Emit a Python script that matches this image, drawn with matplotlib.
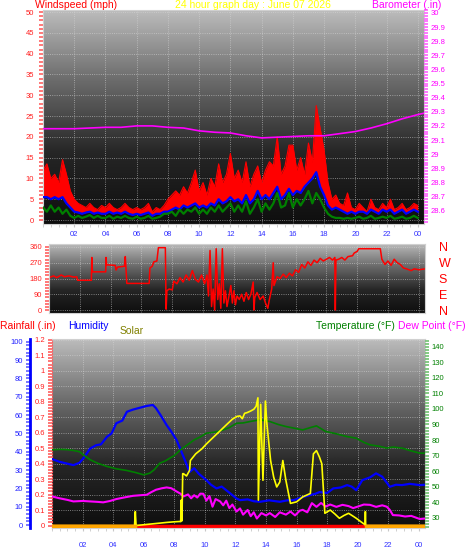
import numpy as np
import matplotlib.pyplot as plt
from matplotlib.colors import LinearSegmentedColormap
from matplotlib.ticker import MultipleLocator, FormatStrFormatter

plt.rcParams['font.family'] = ['Liberation Sans', 'DejaVu Sans']

# wind, 15 minute samples 00:00 .. 24:00 (mph)
hours = np.arange(97) / 4.0
gust = [12, 13.5, 10, 11, 9, 14.5, 11, 7,
        5, 4, 3.5, 3, 4, 3, 2.5, 3.5,
        3, 4, 3, 2.5, 3, 4, 3, 2.5,
        3, 2.5, 3, 4, 2, 3, 2.5, 3.5,
        5, 6, 7, 6, 8, 6.5, 9, 12,
        7, 9, 6, 10, 8, 13.5, 9, 11,
        16, 10, 12, 9, 14, 8, 11, 13,
        9, 12, 14, 13, 20, 11, 13, 18,
        18, 12, 15, 11, 18.5, 14, 27.5, 22,
        16.8, 9, 5, 6, 4, 3.5, 6.5, 3,
        2.5, 4, 3, 2, 5, 3, 2.5, 4,
        3, 5, 2.5, 3, 4, 2.5, 3, 4, 3.5]
avg_wind = [5.5, 5.5, 5, 5.5, 5, 5.5, 4, 3,
            2, 1.8, 1.5, 1.8, 2, 1.5, 1.8, 1.5,
            1.5, 2, 1.5, 1.8, 1.5, 2, 1.5, 1.2,
            1.5, 1.2, 1.5, 1.8, 1, 1.5, 1.5, 2,
            2, 2.5, 3, 2.5, 3.5, 3, 3.5, 4,
            3, 3.5, 3, 4, 3.5, 5, 4, 4.5,
            5.5, 4.5, 5, 4, 6, 4, 5, 7,
            5, 6, 5, 6.5, 8, 5, 6, 7.5,
            6, 7, 6.5, 8, 9, 10, 11.5, 8,
            6, 3.5, 2.5, 3, 2.5, 2, 1.5, 2,
            1.5, 2, 2, 1.5, 2.5, 2, 1.5, 2.5,
            2, 2.5, 1.5, 2, 2.5, 1.5, 2, 2.5, 2]
wind = [3, 2, 3.5, 2, 3, 1.5, 2.5, 1,
        0.5, 1, 0.5, 0.8, 1.2, 0.5, 1, 0.5,
        0.5, 1, 0.3, 0.8, 0.5, 1, 0.5, 0.3,
        0.8, 0.3, 0.5, 1, 0.3, 0.5, 0.8, 1.5,
        1.5, 2, 1, 2.5, 1.5, 2.5, 2, 3,
        1.5, 2.5, 1.5, 3, 2, 3.5, 2, 3,
        4, 2, 3.5, 2, 4.5, 1.5, 3, 5,
        2, 4, 2.5, 4, 6.5, 3, 3.5, 6.5,
        3, 5, 3.5, 5, 7, 4, 6.5, 5,
        3, 1.5, 0.8, 0.5, 0.5, 0.3, 0.5, 0.3,
        0.5, 0.8, 0.3, 0.5, 1, 0.3, 0.5, 0.8,
        0.5, 1, 0.3, 0.5, 0.8, 0.3, 0.5, 1, 0.5]

baro_t = [0, 1, 2, 3, 4, 5, 6, 7, 8, 9, 10, 11, 12, 13, 14, 15, 16, 17, 18, 19, 20, 21, 22, 23, 24, 24.4]
baro = [29.18, 29.18, 29.18, 29.185, 29.19, 29.19, 29.20, 29.20, 29.19, 29.185, 29.165, 29.155, 29.15,
        29.13, 29.115, 29.12, 29.125, 29.13, 29.13, 29.145, 29.16, 29.185, 29.215, 29.25, 29.28, 29.29]
baro_ticks = [28.6, 28.7, 28.8, 28.9, 29.0, 29.1, 29.2, 29.3, 29.4, 29.5, 29.6, 29.7, 29.8, 29.9, 30.0]
baro_labels = ['28.6', '28.7', '28.8', '28.9', '29', '29.1', '29.2', '29.3', '29.4', '29.5', '29.6',
               '29.7', '29.8', '29.9', '30']

# wind direction (degrees)
dir_t = [0.0, 0.3, 0.5, 0.8, 1.0, 1.3, 1.6, 1.8, 1.85, 2.75, 2.78, 2.82, 3.68, 3.70, 3.74, 4.3, 4.35, 4.45,
         4.9, 4.95, 5.05, 6.5, 6.55, 6.7, 6.8, 7.0, 7.1, 7.55, 7.6, 7.65, 7.8, 8.0, 8.1, 8.3, 8.5, 8.7,
         8.9, 9.1, 9.3, 9.5, 9.7, 9.9, 10.1, 10.25, 10.35, 10.45, 10.55, 10.65, 10.75, 10.85, 10.95, 11.05,
         11.15, 11.25, 11.35, 11.45, 11.55, 11.7, 11.8, 11.9, 12.0, 12.1, 12.2, 12.35, 12.5, 12.65, 12.8,
         12.95, 13.1, 13.25, 13.3, 13.35, 13.5, 13.7, 13.9, 14.05, 14.2, 14.3, 14.45, 14.55, 14.6, 14.8,
         15.0, 15.2, 15.4, 15.6, 15.8, 16.0, 16.2, 16.4, 16.6, 16.8, 17.0, 17.2, 17.4, 17.6, 17.8, 18.0,
         18.2, 18.4, 18.55, 18.58, 18.62, 18.8, 19.0, 19.2, 19.4, 19.7, 19.8, 20.0, 20.1, 21.5, 21.6, 21.8,
         22.0, 22.2, 22.4, 22.6, 22.8, 23.0, 23.2, 23.5, 23.7, 24.0, 24.4]
dir_deg = [185, 195, 185, 200, 190, 195, 188, 190, 170, 170, 300, 218, 218, 300, 258, 255, 228, 245,
           250, 305, 152, 152, 240, 250, 275, 280, 356, 356, 5, 110, 120, 115, 165, 150, 185, 160,
           200, 170, 225, 175, 160, 200, 150, 200, 80, 340, 20, 120, 0, 350, 60, 150,
           10, 350, 40, 110, 20, 90, 140, 40, 110, 30, 80, 60, 90, 50, 100,
           60, 90, 160, 0, 70, 100, 60, 80, 40, 10, 60, 120, 270, 140, 190,
           180, 205, 185, 210, 195, 230, 215, 260, 240, 275, 255, 285, 270, 295, 280, 290,
           300, 285, 300, 0, 285, 290, 300, 285, 305, 310, 325, 335, 350, 350, 290, 260,
           280, 255, 290, 270, 260, 240, 235, 225, 235, 230, 235]
compass_ticks = [360, 270, 180, 90, 0]
compass_labels = ['N', 'W', 'S', 'E', 'N']

rain_t = [0, 24.4]
rain = [0, 0]

hum_t = [0.0, 0.5, 1.0, 1.4, 1.8, 2.05, 2.5, 2.9, 3.2, 3.6, 3.9, 4.2, 4.6, 4.9, 5.3, 5.75, 6.2, 6.6, 6.8, 7.1,
         7.5, 7.8, 8.15, 8.6, 9.0, 9.3, 9.6, 10.1, 10.4, 10.76, 11.1, 11.4, 11.7, 12.07, 12.3, 12.8, 13.2,
         13.6, 14.2, 14.9, 15.4, 15.8, 16.3, 16.9, 17.2, 17.5, 18.0, 18.4, 18.9, 19.3, 19.6, 19.9, 20.3,
         20.8, 21.2, 21.6, 22.1, 22.5, 22.9, 23.4, 24.05, 24.4]
hum = [36, 34.5, 33.5, 32.7, 34, 36.4, 41.8, 43.6, 44, 48.2, 50, 55.5, 57, 61.8, 63, 64, 65, 65.5, 63.8, 60,
       54.5, 51, 46.4, 37.3, 29, 31, 28, 24.5, 22, 20, 21, 19, 17, 14.5, 13.6, 14, 13,
       12.7, 13.5, 12.7, 13.5, 13.6, 15, 16.4, 17, 18, 17.5, 20, 20.5, 21.8, 21, 19, 24.5,
       26, 28.2, 26.4, 20.9, 22, 21.8, 22.5, 21.8, 22]

temp_t = [0.0, 0.5, 1.0, 1.4, 1.8, 2.05, 2.5, 3.0, 3.6, 4.2, 4.9, 5.5, 6.0, 6.4, 6.7, 7.05, 7.4, 7.7, 8.0, 8.4,
          8.8, 9.3, 9.7, 10.1, 10.6, 11.2, 11.6, 12.07, 12.5, 13.0, 13.6, 14.25, 14.8, 15.3, 15.9, 16.4,
          16.9, 17.3, 17.9, 18.6, 19.3, 19.9, 20.4, 20.8, 21.4, 21.9, 22.3, 22.9, 23.5, 24.05, 24.4]
temp = [73.7, 74, 73.8, 73.3, 72.5, 70.5, 67.3, 65, 63, 61.5, 60.4, 59, 57.6, 58.7, 61, 65.1, 66.5, 68.3, 70, 73.7,
        76.5, 80.1, 82, 84.4, 85, 86.5, 88, 90.8, 91, 92, 93, 91.9, 90, 88.7, 87.5, 86.5,
        88, 89.1, 85.5, 84, 82.2, 81.2, 78.5, 76.9, 76, 74.8, 75.5, 74.8, 73, 71.6, 71.5]

dew_t = [0.0, 0.5, 1.0, 1.4, 2.0, 2.5, 3.0, 3.35, 3.8, 4.2, 4.7, 5.3, 5.8, 6.2, 6.5, 6.8, 7.2, 7.5, 7.8, 8.15,
         8.4, 8.6, 8.9, 9.1, 9.3, 9.5, 9.7, 9.9, 10.1, 10.3, 10.5, 10.7, 11.0, 11.2, 11.4, 11.6, 11.8, 12.07,
         12.3, 12.5, 12.8, 13.0, 13.2, 13.4, 13.7, 14.0, 14.25, 14.6, 14.9, 15.3, 15.6, 15.9, 16.2, 16.4,
         16.7, 17.0, 17.3, 17.6, 17.9, 18.2, 18.6, 19.0, 19.4, 19.7, 20.1, 20.4, 20.8, 21.2, 21.6, 21.9,
         22.1, 22.3, 22.7, 23.1, 23.5, 24.05, 24.4]
dew = [43.7, 42.5, 41.5, 40.5, 40.8, 40.5, 40.2, 39.9, 40.8, 42, 43, 44.1, 44.5, 44.8, 46.5, 48, 49, 49.5, 49, 46.9,
       45.5, 43.7, 45, 42.5, 44.5, 43, 45.5, 45.4, 41, 44, 37.1, 42, 40.5, 38, 41, 36.2, 38.5, 34,
       36, 32, 35, 31, 33.5, 29.5, 33, 31.5, 33, 30.5, 33.5, 32, 34, 31.5, 34.5, 35.1,
       33.5, 39.4, 37, 39.5, 37.2, 38.5, 37, 38.3, 37.5, 36.2, 37.5, 38.5, 38.3, 37, 38, 37.1,
       35, 31.7, 31.5, 30.8, 31.2, 29.2, 29.5]

sol_t = [0.0, 5.4, 5.45, 5.5, 6.0, 6.5, 7.0, 7.5, 8.0, 8.35, 8.42, 8.45, 8.5, 8.55, 8.6, 8.8, 9.0, 9.05, 9.4, 9.8,
         10.1, 10.5, 11.0, 11.4, 11.8, 12.1, 12.3, 12.45, 12.6, 12.75, 13.0, 13.2, 13.35, 13.47, 13.5, 13.65,
         13.8, 13.96, 14.05, 14.3, 14.5, 14.7, 14.9, 15.1, 15.3, 15.6, 16.0, 16.4, 16.9, 17.1, 17.3, 17.5,
         17.65, 17.85, 18.2, 18.5, 18.8, 19.1, 19.4, 19.7, 19.9, 20.2, 20.48, 20.5, 20.52, 24.4]
sol = [0, 0, 90, 0, 5, 10, 15, 20, 24, 26, 25, 164, 30, 335, 335, 320, 356, 420, 463, 495,
       527, 565, 612, 650, 687, 705, 708, 690, 725, 729, 740, 751, 770, 825, 164, 783,
       292, 804, 665, 420, 313, 249, 281, 420, 292, 143, 153, 185, 207, 463, 484, 441,
       399, 79, 100, 75, 47, 65, 79, 60, 47, 25, 5, 90, 0, 0]

hour_ticks = [2, 4, 6, 8, 10, 12, 14, 16, 18, 20, 22, 24]
hour_labels = ['02', '04', '06', '08', '10', '12', '14', '16', '18', '20', '22', '00']

W, H = 470, 554
fig = plt.figure(figsize=(W / 100, H / 100), dpi=100)
fig.patch.set_facecolor('white')

bg = LinearSegmentedColormap.from_list('bg', ['#0e0e0e', '#262626', '#6a6a6a', '#bcbcbc'])


def box(left, top, right, bottom):
    return [left / W, 1 - bottom / H, (right - left) / W, (bottom - top) / H]


def backdrop(ax):
    ax.imshow(np.linspace(0, 1, 256).reshape(-1, 1), cmap=bg, origin='lower', extent=[0, 1, 0, 1],
              transform=ax.transAxes, aspect='auto', zorder=0)
    for s in ax.spines.values():
        s.set_color('#d0d0d0')
        s.set_linewidth(0.8)
    ax.grid(True, which='major', color='#d8d8d8', ls=':', lw=0.6, alpha=0.7)


def hide_spines(ax):
    for s in ax.spines.values():
        s.set_visible(False)


# ---- wind speed / barometer ----
ax1 = fig.add_axes(box(43, 10, 424, 224))
backdrop(ax1)
ax1.fill_between(hours, avg_wind, gust, color='#ff0000', lw=0, zorder=2)
ax1.plot(hours, gust, color='#ff0000', lw=0.8, zorder=2)
ax1.plot(hours, avg_wind, color='#0000ff', lw=1.6, zorder=3)
ax1.plot(hours, wind, color='#008000', lw=1.6, zorder=4)
ax1.set_xlim(0, 24.4)
ax1.set_ylim(-0.96, 50.5)
ax1.set_xticks(hour_ticks)
ax1.set_xticklabels(hour_labels)
ax1.xaxis.set_minor_locator(MultipleLocator(0.5))
ax1.tick_params(axis='x', which='both', colors='#c8c8c8', labelcolor='#3030ff', labelsize=5.5, length=2, pad=3)
ax1.yaxis.set_major_locator(MultipleLocator(5))
ax1.yaxis.set_minor_locator(MultipleLocator(1))
ax1.tick_params(axis='y', which='both', colors='#ff6060', labelcolor='#ff2020', labelsize=5.5, length=3,
                width=1.2, pad=3.5)

ax1b = ax1.twinx()
hide_spines(ax1b)
ax1b.plot(baro_t, baro, color='#ff00ff', lw=1.2)
ax1b.set_ylim(28.505, 30.021)
ax1b.set_yticks(baro_ticks)
ax1b.set_yticklabels(baro_labels)
ax1b.yaxis.set_minor_locator(MultipleLocator(0.02))
ax1b.tick_params(axis='y', which='both', colors='#ff60ff', labelcolor='#ff00ff', labelsize=5.5, length=3,
                 width=1.2, pad=2)

# ---- wind direction ----
ax2 = fig.add_axes(box(49, 244, 425, 313))
backdrop(ax2)
ax2.plot(dir_t, dir_deg, color='#ff0000', lw=1.1, zorder=2)
ax2.set_xlim(0, 24.4)
ax2.set_ylim(-17, 377)
ax2.set_xticks(hour_ticks)
ax2.tick_params(axis='x', labelbottom=False, length=0)
ax2.set_yticks([0, 90, 180, 270, 360])
ax2.yaxis.set_minor_locator(MultipleLocator(18))
ax2.tick_params(axis='y', which='both', colors='#ff6060', labelcolor='#ff2020', labelsize=5.5, length=3,
                width=1.2, pad=2)
ax2r = ax2.twinx()
hide_spines(ax2r)
ax2r.set_ylim(-17, 377)
ax2r.set_yticks(compass_ticks)
ax2r.set_yticklabels(compass_labels)
ax2r.tick_params(axis='y', length=0, labelcolor='#ff0000', labelsize=9, pad=10)

# ---- rain / humidity / solar / temperature ----
ax3 = fig.add_axes(box(52, 339, 425, 528))
backdrop(ax3)
ax3.plot(rain_t, rain, color='#ff0000', lw=2.5, zorder=2)
ax3.set_xlim(0, 24.4)
ax3.set_ylim(-0.016, 1.205)
ax3.set_xticks(hour_ticks)
ax3.set_xticklabels(hour_labels)
ax3.xaxis.set_minor_locator(MultipleLocator(0.5))
ax3.tick_params(axis='x', which='both', colors='#c8c8c8', labelcolor='#3030ff', labelsize=5.5, length=2, pad=8)
ax3.yaxis.set_major_locator(MultipleLocator(0.1))
ax3.yaxis.set_minor_locator(MultipleLocator(0.02))
ax3.yaxis.set_major_formatter(FormatStrFormatter('%g'))
ax3.tick_params(axis='y', which='both', colors='#ff6060', labelcolor='#ff2020', labelsize=5.5, length=3,
                width=1.2, pad=2)
ax3.spines['left'].set_color('#ff6060')
ax3.spines['left'].set_linestyle(':')

axh = ax3.twinx()
hide_spines(axh)
axh.plot(hum_t, hum, color='#0000ff', lw=1.6)
axh.set_ylim(-1.6, 101.5)
axh.yaxis.tick_left()
axh.spines['left'].set_visible(True)
axh.spines['left'].set_position(('outward', 16))
axh.spines['left'].set_color('#0000ff')
axh.spines['left'].set_linewidth(2)
axh.yaxis.set_major_locator(MultipleLocator(10))
axh.yaxis.set_minor_locator(MultipleLocator(2))
axh.tick_params(axis='y', which='both', colors='#6060ff', labelcolor='#2020ff', labelsize=5.5, length=3,
                width=1.2, pad=2)

axt = ax3.twinx()
hide_spines(axt)
axt.plot(temp_t, temp, color='#008000', lw=1.2)
axt.plot(dew_t, dew, color='#ff00ff', lw=1.5)
axt.set_ylim(23.4, 145)
axt.yaxis.set_major_locator(MultipleLocator(10))
axt.yaxis.set_minor_locator(MultipleLocator(2))
axt.tick_params(axis='y', which='both', colors='#70c070', labelcolor='#008000', labelsize=5.5, length=3,
                width=1.2, pad=2)

axs = ax3.twinx()
axs.axis('off')
sol_arr = np.array(sol, dtype=float)
axs.plot(sol_t, sol_arr, color='#ffff00', lw=1.2)
axs.plot(sol_t, np.where(sol_arr == 0, 0, np.nan), color='#ffa500', lw=2.5)
axs.set_ylim(-16, 1205)

# ---- titles ----
fig.text(35 / W, 1 - 0.5 / H, 'Windspeed (mph)', color='#ff0000', fontsize=7.5, ha='left', va='top')
fig.text(253 / W, 1 - 0.5 / H, '24 hour graph day : June 07 2026', color='#ffff00', fontsize=7.5,
         ha='center', va='top')
fig.text(441 / W, 1 - 0.5 / H, 'Barometer (.in)', color='#ff00ff', fontsize=7.5, ha='right', va='top')

fig.text(0, 1 - 326 / H, 'Rainfall (.in)', color='#ff0000', fontsize=7.5, ha='left', va='center')
fig.text(68 / W, 1 - 326 / H, 'Humidity', color='#0000ff', fontsize=7.5, ha='left', va='center')
fig.text(120 / W, 1 - 331 / H, 'Solar', color='#808000', fontsize=7.5, ha='left', va='center')
fig.text(316 / W, 1 - 326 / H, 'Temperature (°F)', color='#008000', fontsize=7.5, ha='left', va='center')
fig.text(398 / W, 1 - 326 / H, 'Dew Point (°F)', color='#ff00ff', fontsize=7.5, ha='left', va='center')

fig.savefig('out.png', dpi=100, facecolor='white')
